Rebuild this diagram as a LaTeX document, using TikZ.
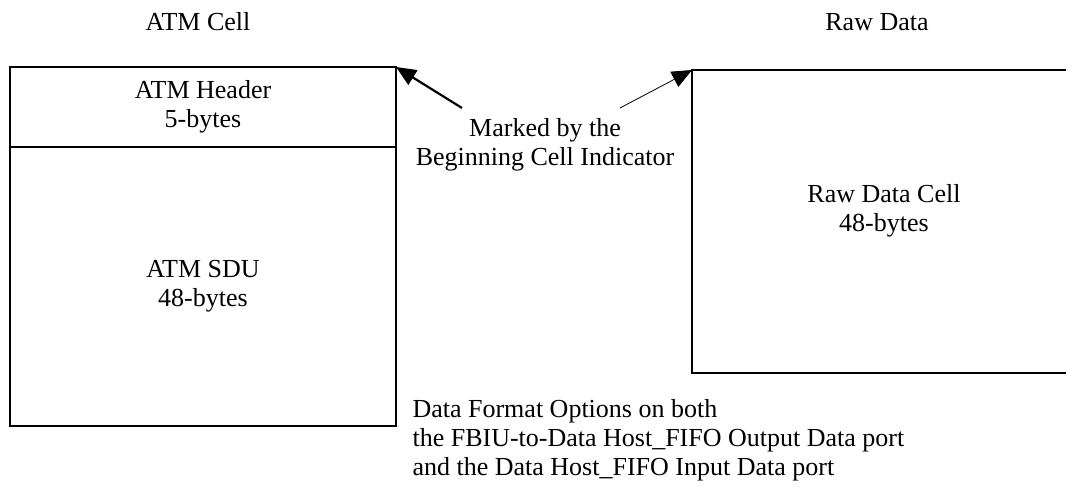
\documentclass[tikz,border=0pt]{standalone}
\usepackage{fontspec}
\setmainfont{Liberation Serif}
\usetikzlibrary{arrows.meta,positioning}

\begin{document}
\begin{tikzpicture}[
		x=1pt, y=-1pt,
		every node/.style={font=\fontsize{26}{29}\selectfont},
		cellbox/.style={draw, line width=2.2pt, align=center, inner sep=0pt, outer sep=0pt},
		pointer/.style={-{Triangle[length=20pt, width=17pt]}},
	]
		\useasboundingbox (0,0) rectangle (1066,489);
	
		% ATM cell
		\node[cellbox, minimum width=386pt, minimum height=80pt, anchor=north west] (hdr) at (10,67) {ATM Header\\5-bytes};
		\node[cellbox, minimum width=386pt, minimum height=279pt, anchor=north west] (sdu) at (hdr.south west) {ATM SDU\\48-bytes};
		\node (atm) at (198,22) {ATM Cell};
		
		% raw data
		\node[cellbox, minimum width=390pt, minimum height=303pt, anchor=north west] (raw) at (692,70) {};
		\node[align=center] (rawtxt) at (884,211) {Raw Data Cell\\48-bytes};
		\node (rawdata) at (877,22) {Raw Data};
		
		% marker
		\node[align=center] (mark) at (545,145) {Marked by the\\Beginning Cell Indicator};
		\coordinate (m1) at (462,108);
		\coordinate (m2) at (620,108);
		\draw[pointer, line width=2.2pt] (m1) -- (hdr.north east);
		\draw[pointer, line width=0.8pt] (m2) -- (raw.north west);
		
		\node[align=left, anchor=west] (opts) at (409,440) {Data Format Options on both\\the FBIU-to-Data Host\_FIFO Output Data port\\and the Data Host\_FIFO Input Data port};
	\end{tikzpicture}
\end{document}
